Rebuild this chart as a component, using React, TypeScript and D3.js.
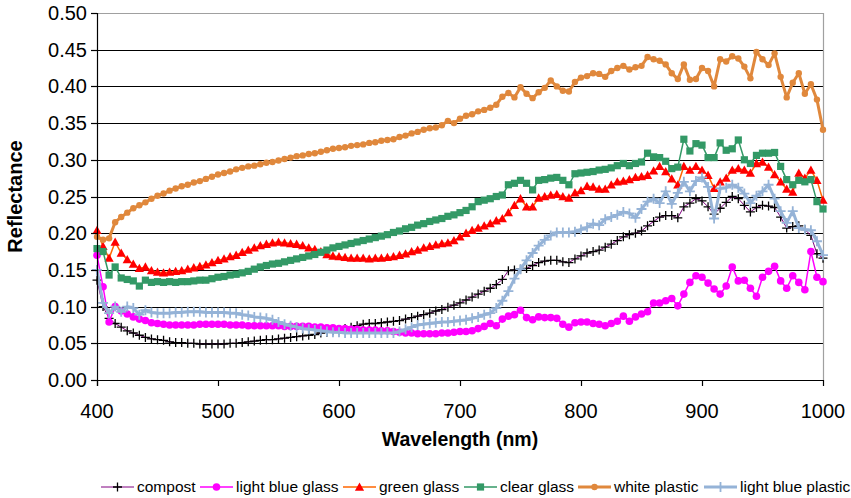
import React from "react";
import * as d3 from "d3";

// ---------- DATA ----------
const wavelengths: number[] = [
  400, 405, 410, 415, 420, 425, 430, 435, 440, 445,
  450, 455, 460, 465, 470, 475, 480, 485, 490, 495,
  500, 505, 510, 515, 520, 525, 530, 535, 540, 545,
  550, 555, 560, 565, 570, 575, 580, 585, 590, 595,
  600, 605, 610, 615, 620, 625, 630, 635, 640, 645,
  650, 655, 660, 665, 670, 675, 680, 685, 690, 695,
  700, 705, 710, 715, 720, 725, 730, 735, 740, 745,
  750, 755, 760, 765, 770, 775, 780, 785, 790, 795,
  800, 805, 810, 815, 820, 825, 830, 835, 840, 845,
  850, 855, 860, 865, 870, 875, 880, 885, 890, 895,
  900, 905, 910, 915, 920, 925, 930, 935, 940, 945,
  950, 955, 960, 965, 970, 975, 980, 985, 990, 995,
  1000,
];

const compost: number[] = [
  0.136, 0.100, 0.084, 0.077, 0.072, 0.067, 0.064, 0.061, 0.058, 0.056,
  0.055, 0.054, 0.052, 0.051, 0.051, 0.050, 0.050, 0.049, 0.049, 0.049,
  0.049, 0.049, 0.050, 0.050, 0.051, 0.052, 0.053, 0.054, 0.055, 0.055,
  0.056, 0.057, 0.058, 0.059, 0.060, 0.061, 0.062, 0.064, 0.065, 0.067,
  0.068, 0.070, 0.072, 0.074, 0.076, 0.077, 0.077, 0.078, 0.079, 0.080,
  0.081, 0.083, 0.085, 0.087, 0.089, 0.091, 0.094, 0.096, 0.099, 0.102,
  0.105, 0.109, 0.113, 0.117, 0.121, 0.125, 0.130, 0.137, 0.149, 0.150,
  0.151, 0.152, 0.156, 0.160, 0.162, 0.163, 0.163, 0.161, 0.160, 0.165,
  0.169, 0.173, 0.175, 0.177, 0.181, 0.185, 0.190, 0.195, 0.198, 0.200,
  0.203, 0.210, 0.216, 0.222, 0.224, 0.224, 0.221, 0.236, 0.241, 0.247,
  0.244, 0.236, 0.226, 0.234, 0.242, 0.250, 0.247, 0.238, 0.229, 0.235,
  0.238, 0.237, 0.235, 0.222, 0.207, 0.209, 0.210, 0.205, 0.197, 0.172,
  0.166,
];

const lightBlueGlass: number[] = [
  0.170, 0.127, 0.079, 0.100, 0.094, 0.090, 0.086, 0.083, 0.081, 0.078,
  0.077, 0.076, 0.075, 0.075, 0.075, 0.075, 0.075, 0.076, 0.076, 0.076,
  0.076, 0.076, 0.075, 0.075, 0.075, 0.074, 0.074, 0.074, 0.074, 0.074,
  0.074, 0.073, 0.073, 0.073, 0.073, 0.073, 0.072, 0.072, 0.071, 0.071,
  0.070, 0.070, 0.069, 0.069, 0.068, 0.068, 0.068, 0.067, 0.067, 0.066,
  0.065, 0.064, 0.064, 0.063, 0.063, 0.063, 0.063, 0.064, 0.064, 0.065,
  0.066, 0.066, 0.067, 0.070, 0.073, 0.077, 0.074, 0.083, 0.087, 0.089,
  0.095, 0.085, 0.082, 0.086, 0.085, 0.085, 0.084, 0.076, 0.072, 0.078,
  0.079, 0.079, 0.077, 0.076, 0.074, 0.077, 0.080, 0.087, 0.080, 0.086,
  0.090, 0.093, 0.105, 0.105, 0.108, 0.111, 0.101, 0.117, 0.133, 0.142,
  0.140, 0.132, 0.124, 0.117, 0.128, 0.154, 0.135, 0.136, 0.125, 0.114,
  0.140, 0.148, 0.155, 0.135, 0.125, 0.142, 0.133, 0.123, 0.175, 0.140,
  0.134,
];

const greenGlass: number[] = [
  0.204, 0.182, 0.166, 0.188, 0.173, 0.164, 0.158, 0.152, 0.154, 0.149,
  0.147, 0.146, 0.147, 0.148, 0.149, 0.151, 0.153, 0.155, 0.157, 0.160,
  0.163, 0.165, 0.168, 0.170, 0.174, 0.177, 0.180, 0.183, 0.185, 0.187,
  0.188, 0.187, 0.186, 0.185, 0.183, 0.180, 0.178, 0.175, 0.171, 0.169,
  0.168, 0.167, 0.166, 0.166, 0.166, 0.165, 0.166, 0.166, 0.167, 0.168,
  0.170, 0.172, 0.175, 0.177, 0.180, 0.182, 0.184, 0.186, 0.187, 0.190,
  0.195, 0.200, 0.204, 0.207, 0.210, 0.213, 0.217, 0.220, 0.228, 0.238,
  0.247, 0.236, 0.236, 0.248, 0.250, 0.252, 0.253, 0.250, 0.248, 0.255,
  0.258, 0.264, 0.263, 0.260, 0.260, 0.266, 0.270, 0.271, 0.273, 0.276,
  0.277, 0.279, 0.285, 0.291, 0.284, 0.274, 0.266, 0.291, 0.286, 0.291,
  0.286, 0.279, 0.261, 0.270, 0.275, 0.286, 0.288, 0.286, 0.282, 0.295,
  0.297, 0.290, 0.280, 0.270, 0.260, 0.256, 0.282, 0.275, 0.286, 0.272,
  0.245,
];

const clearGlass: number[] = [
  0.179, 0.175, 0.143, 0.154, 0.139, 0.137, 0.135, 0.128, 0.136, 0.133,
  0.134, 0.133, 0.134, 0.133, 0.134, 0.134, 0.135, 0.136, 0.136, 0.138,
  0.140, 0.141, 0.143, 0.144, 0.146, 0.148, 0.151, 0.154, 0.156, 0.158,
  0.159, 0.161, 0.163, 0.165, 0.167, 0.169, 0.171, 0.174, 0.177, 0.180,
  0.182, 0.184, 0.186, 0.188, 0.190, 0.192, 0.194, 0.196, 0.198, 0.201,
  0.203, 0.206, 0.208, 0.211, 0.213, 0.216, 0.218, 0.220, 0.223, 0.225,
  0.228, 0.231, 0.236, 0.243, 0.245, 0.247, 0.250, 0.252, 0.266, 0.268,
  0.272, 0.268, 0.259, 0.272, 0.273, 0.275, 0.276, 0.272, 0.266, 0.281,
  0.282, 0.283, 0.284, 0.286, 0.287, 0.289, 0.292, 0.295, 0.292, 0.295,
  0.297, 0.309, 0.304, 0.303, 0.298, 0.288, 0.290, 0.328, 0.312, 0.322,
  0.320, 0.303, 0.303, 0.323, 0.313, 0.315, 0.327, 0.300, 0.295, 0.306,
  0.309, 0.309, 0.310, 0.291, 0.273, 0.266, 0.272, 0.270, 0.273, 0.243,
  0.233,
];

const whitePlastic: number[] = [
  0.195, 0.191, 0.193, 0.215, 0.222, 0.228, 0.234, 0.238, 0.242, 0.247,
  0.251, 0.254, 0.258, 0.261, 0.264, 0.266, 0.269, 0.271, 0.274, 0.277,
  0.280, 0.282, 0.284, 0.287, 0.289, 0.291, 0.292, 0.294, 0.296, 0.297,
  0.299, 0.301, 0.303, 0.305, 0.306, 0.308, 0.309, 0.311, 0.313, 0.315,
  0.316, 0.317, 0.319, 0.320, 0.321, 0.323, 0.324, 0.326, 0.327, 0.328,
  0.331, 0.333, 0.336, 0.338, 0.341, 0.343, 0.344, 0.347, 0.353, 0.350,
  0.356, 0.360, 0.362, 0.366, 0.368, 0.371, 0.375, 0.386, 0.391, 0.385,
  0.399, 0.390, 0.384, 0.392, 0.398, 0.408, 0.400, 0.394, 0.393, 0.406,
  0.412, 0.414, 0.418, 0.417, 0.413, 0.421, 0.425, 0.428, 0.423, 0.426,
  0.428, 0.440, 0.437, 0.435, 0.430, 0.418, 0.410, 0.430, 0.409, 0.410,
  0.425, 0.421, 0.400, 0.437, 0.434, 0.441, 0.438, 0.427, 0.411, 0.447,
  0.437, 0.429, 0.445, 0.413, 0.385, 0.405, 0.418, 0.390, 0.403, 0.382,
  0.341,
];

const lightBluePlastic: number[] = [
  0.150, 0.105, 0.091, 0.100, 0.093, 0.100, 0.098, 0.089, 0.095, 0.092,
  0.091, 0.091, 0.091, 0.092, 0.092, 0.093, 0.093, 0.093, 0.092, 0.092,
  0.092, 0.092, 0.091, 0.091, 0.089, 0.088, 0.086, 0.085, 0.084, 0.082,
  0.079, 0.076, 0.074, 0.072, 0.070, 0.069, 0.068, 0.067, 0.066, 0.065,
  0.065, 0.064, 0.064, 0.064, 0.064, 0.064, 0.064, 0.064, 0.064, 0.064,
  0.066, 0.069, 0.072, 0.075, 0.076, 0.077, 0.078, 0.079, 0.079, 0.080,
  0.081, 0.082, 0.084, 0.086, 0.089, 0.091, 0.098, 0.108, 0.121, 0.138,
  0.151, 0.163, 0.173, 0.183, 0.191, 0.197, 0.201, 0.201, 0.201, 0.202,
  0.205, 0.208, 0.213, 0.211, 0.219, 0.222, 0.225, 0.229, 0.227, 0.221,
  0.233, 0.243, 0.247, 0.241, 0.257, 0.240, 0.255, 0.270, 0.257, 0.271,
  0.276, 0.263, 0.220, 0.261, 0.262, 0.266, 0.262, 0.254, 0.241, 0.251,
  0.257, 0.266, 0.247, 0.230, 0.214, 0.230, 0.207, 0.205, 0.204, 0.189,
  0.170,
];

const seriesNames: string[] = [
  "compost",
  "light blue glass",
  "green glass",
  "clear glass",
  "white plastic",
  "light blue plastic",
];

const xTicks: number[] = [400, 500, 600, 700, 800, 900, 1000];
const yTicks: number[] = [0, 0.05, 0.1, 0.15, 0.2, 0.25, 0.3, 0.35, 0.4, 0.45, 0.5];

const xLabel = "Wavelength (nm)";
const yLabel = "Reflectance";

// ---------- STYLES ----------
type Marker = "plus" | "circle" | "triangle" | "square";
interface Style {
  line: string;
  lineWidth: number;
  marker: Marker;
  mFill: string;
  mStroke: string;
  mSize: number;
  mStrokeWidth: number;
}

const styles: Style[] = [
  { line: "#800080", lineWidth: 1, marker: "plus", mFill: "none", mStroke: "#000000", mSize: 4.5, mStrokeWidth: 1.3 },
  { line: "#FF00FF", lineWidth: 1.5, marker: "circle", mFill: "#FF00FF", mStroke: "#FF00FF", mSize: 3.8, mStrokeWidth: 0 },
  { line: "#FF6600", lineWidth: 1.5, marker: "triangle", mFill: "#FF0000", mStroke: "#FF0000", mSize: 4.6, mStrokeWidth: 0 },
  { line: "#339966", lineWidth: 1.5, marker: "square", mFill: "#339966", mStroke: "#339966", mSize: 3.6, mStrokeWidth: 0 },
  { line: "#E0883C", lineWidth: 3, marker: "circle", mFill: "#E0883C", mStroke: "#E0883C", mSize: 3.2, mStrokeWidth: 0 },
  { line: "#95B3D7", lineWidth: 3, marker: "plus", mFill: "none", mStroke: "#95B3D7", mSize: 5, mStrokeWidth: 1.8 },
];

const allSeries: number[][] = [compost, lightBlueGlass, greenGlass, clearGlass, whitePlastic, lightBluePlastic];

// ---------- LAYOUT ----------
const W = 851;
const H = 498;
const PLOT = { left: 97, right: 823, top: 13, bottom: 380 };
const FONT = "'Liberation Sans', Arial, sans-serif";
const legendX: number[] = [101, 200, 343, 464, 578, 704];
const legendY = 487;

function markerPath(m: Marker, s: number): string {
  switch (m) {
    case "plus":
      return `M${-s},0H${s}M0,${-s}V${s}`;
    case "triangle":
      return `M0,${-s}L${s},${s * 0.8}L${-s},${s * 0.8}Z`;
    case "square":
      return `M${-s},${-s}H${s}V${s}H${-s}Z`;
    default:
      return "";
  }
}

function MarkerShape({ st, x, y }: { st: Style; x: number; y: number }) {
  if (st.marker === "circle") {
    return <circle cx={x} cy={y} r={st.mSize} fill={st.mFill} />;
  }
  return (
    <path
      d={markerPath(st.marker, st.mSize)}
      transform={`translate(${x},${y})`}
      fill={st.mFill}
      stroke={st.marker === "plus" ? st.mStroke : "none"}
      strokeWidth={st.mStrokeWidth}
    />
  );
}

export default function App() {
  const x = d3.scaleLinear().domain([400, 1000]).range([PLOT.left, PLOT.right]);
  const y = d3.scaleLinear().domain([0, 0.5]).range([PLOT.bottom, PLOT.top]);

  const line = d3
    .line<number>()
    .x((_, i) => x(wavelengths[i]))
    .y((d) => y(d));

  return (
    <svg
      width={W}
      height={H}
      style={{ position: "absolute", left: 0, top: 0, background: "#fff" }}
      fontFamily={FONT}
    >
      <rect x={0} y={0} width={W} height={H} fill="#fff" />
      {/* gridlines */}
      {yTicks.slice(1, -1).map((t) => (
        <line key={t} x1={PLOT.left} x2={PLOT.right} y1={Math.round(y(t)) + 0.5} y2={Math.round(y(t)) + 0.5} stroke="#000" strokeWidth={1} />
      ))}
      {/* plot frame top & right (gray) */}
      <line x1={PLOT.left} x2={PLOT.right} y1={PLOT.top + 0.5} y2={PLOT.top + 0.5} stroke="#a0a0a0" strokeWidth={1.2} />
      <line x1={PLOT.right + 0.5} x2={PLOT.right + 0.5} y1={PLOT.top} y2={PLOT.bottom} stroke="#a0a0a0" strokeWidth={1.2} />

      {/* series */}
      {allSeries.map((vals, si) => {
        const st = styles[si];
        return (
          <g key={seriesNames[si]}>
            <path d={line(vals) || ""} fill="none" stroke={st.line} strokeWidth={st.lineWidth} strokeLinejoin="round" />
            {vals.map((v, i) => (
              <MarkerShape key={i} st={st} x={x(wavelengths[i])} y={y(v)} />
            ))}
          </g>
        );
      })}

      {/* axes */}
      <line x1={PLOT.left + 0.5} x2={PLOT.left + 0.5} y1={PLOT.top} y2={PLOT.bottom + 6} stroke="#000" strokeWidth={1.2} />
      <line x1={PLOT.left - 6} x2={PLOT.right + 1} y1={PLOT.bottom + 0.5} y2={PLOT.bottom + 0.5} stroke="#000" strokeWidth={1.2} />
      {yTicks.map((t) => (
        <g key={t}>
          <line x1={PLOT.left - 6} x2={PLOT.left} y1={Math.round(y(t)) + 0.5} y2={Math.round(y(t)) + 0.5} stroke="#000" strokeWidth={1.2} />
          <text x={PLOT.left - 10} y={y(t)} dy="0.35em" textAnchor="end" fontSize={20} fill="#000">
            {d3.format(".2f")(t)}
          </text>
        </g>
      ))}
      {xTicks.map((t) => (
        <g key={t}>
          <line x1={Math.round(x(t)) + 0.5} x2={Math.round(x(t)) + 0.5} y1={PLOT.bottom} y2={PLOT.bottom + 6} stroke="#000" strokeWidth={1.2} />
          <text x={x(t)} y={PLOT.bottom + 38} textAnchor="middle" fontSize={20} fill="#000">
            {t}
          </text>
        </g>
      ))}

      {/* axis titles */}
      <text x={(PLOT.left + PLOT.right) / 2} y={446} textAnchor="middle" fontSize={19.5} fontWeight="bold" fill="#000">
        {xLabel}
      </text>
      <text transform={`translate(22,${(PLOT.top + PLOT.bottom) / 2}) rotate(-90)`} textAnchor="middle" fontSize={20} fontWeight="bold" fill="#000">
        {yLabel}
      </text>

      {/* legend */}
      {seriesNames.map((name, si) => {
        const st = styles[si];
        const lx = legendX[si];
        return (
          <g key={name}>
            <line x1={lx} x2={lx + 33} y1={legendY} y2={legendY} stroke={st.line} strokeWidth={st.lineWidth} />
            <MarkerShape st={st} x={lx + 16.5} y={legendY} />
            <text x={lx + 36} y={legendY} dy="0.35em" fontSize={15.5} fill="#000">
              {name}
            </text>
          </g>
        );
      })}
    </svg>
  );
}
